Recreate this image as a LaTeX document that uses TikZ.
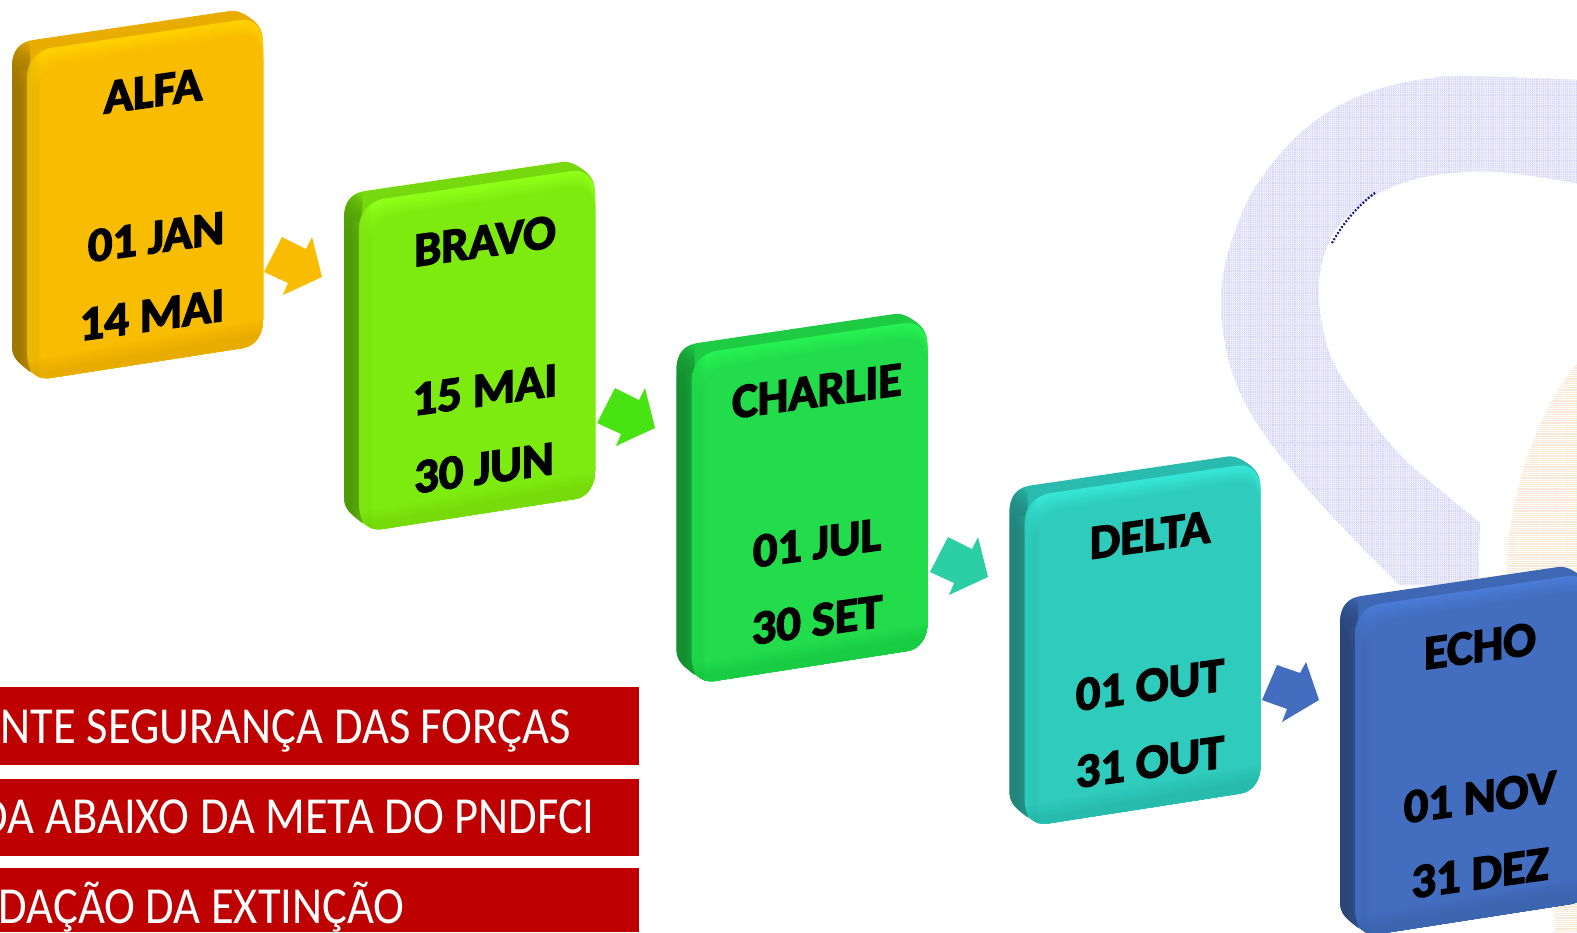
\documentclass[tikz,border=0pt]{standalone}
\usepackage{fontspec}
\usetikzlibrary{patterns.meta}
\setmainfont{Carlito}
\newfontfamily\cardfont[FakeBold=3]{Carlito Bold}
\definecolor{banner}{HTML}{BE0000}
\definecolor{lav}{HTML}{D5D4F5}
\definecolor{lavline}{HTML}{EEEEFB}
\definecolor{peach}{HTML}{FAE9D6}
\definecolor{arrowgreen}{HTML}{48E312}
\definecolor{aface}{HTML}{F8BC00}\definecolor{atop}{HTML}{FFCF00}\definecolor{aside}{HTML}{E8AD00}\definecolor{adark}{HTML}{9E7700}
\definecolor{bface}{HTML}{7EEB10}\definecolor{btop}{HTML}{8EFF18}\definecolor{bside}{HTML}{76D80F}\definecolor{bdark}{HTML}{4E9A08}
\definecolor{cface}{HTML}{22DC4B}\definecolor{ctop}{HTML}{26F052}\definecolor{cside}{HTML}{1FCB45}\definecolor{cdark}{HTML}{148C30}
\definecolor{dface}{HTML}{2FCBBD}\definecolor{dtop}{HTML}{36E5D5}\definecolor{dside}{HTML}{2ABBAE}\definecolor{ddark}{HTML}{22837A}
\definecolor{eface}{HTML}{436DBE}\definecolor{etop}{HTML}{4A7AD4}\definecolor{eside}{HTML}{3F68B4}\definecolor{edark}{HTML}{2A4576}
\tikzset{
  cardtext/.style={font=\cardfont\fontsize{24.2}{24.2}\selectfont,text=black,inner sep=0pt,transform shape,cm={1,0.14,0,1,(0,0)}},
  bannerbox/.style={fill=banner,draw=none},
  bannertext/.style={font=\fontsize{26}{26}\selectfont,text=white,inner sep=0pt,anchor=base east,transform shape,xscale=0.895},
  blockarrow/.style={draw=none}
}
\newcommand{\silpath}{(12,67) .. controls (12,50) and (20,42) .. (33,40) -- (230,11) .. controls (238,10) and (245,14) .. (253,20) .. controls (260,26) and (263,32) .. (263,43) -- (263,320) .. controls (263,335) and (255,346) .. (243,348) -- (50,378) .. controls (42,379) and (36,376) .. (28,370) .. controls (18,362) and (12,358) .. (12,345) -- cycle}
\newcommand{\facepath}{(27,78) .. controls (27,62) and (36,52) .. (50,48) -- (240,20) .. controls (255,18) and (263,30) .. (263,43) -- (263,320) .. controls (263,335) and (255,346) .. (243,348) -- (50,378) .. controls (35,380) and (27,370) .. (27,352) -- cycle}
\newcommand{\card}[3]{%
  \begin{scope}[shift={(#1,#2)}]
    \fill[#3side] \silpath;
    \begin{scope}
      \clip \silpath;
      \foreach \yy in {38,42,...,90} {\fill[#3dark,opacity=0.18] (8,\yy-8) -- (30,\yy+6) -- (30,385) -- (8,385) -- cycle;}
      \foreach \xx in {20,22,24,26,28} {\fill[#3side,opacity=0.07] (\xx,70) rectangle (30,385);}
    \end{scope}
    \fill[#3top] \facepath;
    \begin{scope}
      \clip \facepath;
      \foreach \tt/\mm in {3/12,5/25,7/38,9/52,11/65,13/78,15/90,17/100} {
        \fill[#3face!\mm!#3top] (27+0.6*\tt,100) .. controls (27+0.6*\tt,62+\tt) and (36+0.6*\tt,52+\tt) .. (50+0.6*\tt,48+\tt) -- (240,20+\tt) .. controls (255,18+\tt) and (263,30+\tt) .. (263,43+\tt) -- (270,400) -- (27+0.6*\tt,400) -- cycle;
      }
      \foreach \xx in {29,31,...,41} {\fill[#3dark,opacity=0.035] (25,40) rectangle (\xx,400);}
      \foreach \bb in {2,4,...,16} {\fill[#3dark,opacity=0.018] (20,378-\bb) -- (263,335-\bb) -- (270,400) -- (20,400) -- cycle;}
    \end{scope}
  \end{scope}}
\newcommand{\arrowshape}[3]{%
  \fill[blockarrow,#3,shift={(#1,#2)}] (264,272) -- (282,237) -- (306,249) -- (312,237) -- (322,277) -- (283,295) -- (288,283) -- cycle;}
\newcommand{\ribbon}{plot[smooth,tension=0.6] coordinates {(1580,80) (1500,77) (1440,77) (1370,92) (1310,125) (1260,180) (1232,240) (1221,300) (1230,365) (1255,420) (1300,480) (1350,535) (1400,585)} -- (1478,585) -- plot[smooth,tension=0.6] coordinates {(1480,523) (1440,490) (1400,455) (1360,405) (1330,355) (1319,300) (1324,255) (1345,218) (1385,190) (1435,175) (1500,172) (1580,184)} -- cycle}
\newcommand{\peachshape}{(1580,360) .. controls (1545,400) and (1515,470) .. (1507,553) -- (1507,700) -- (1555,905) -- (1555,932) -- (1580,932) -- cycle}
\begin{document}
\begin{tikzpicture}[x=0.5pt,y=-0.5pt]
\useasboundingbox (0,0) rectangle (1577,932);
\clip (0,0) rectangle (1577,932);
% watermark
\fill[lav] \ribbon;
\fill[pattern={Lines[angle=0,distance=1.1pt,line width=0.3pt]},pattern color=lavline] \ribbon;
\fill[pattern={Lines[angle=90,distance=1.1pt,line width=0.3pt]},pattern color=lavline] \ribbon;
\fill[peach] \peachshape;
\fill[pattern={Lines[angle=0,distance=1.1pt,line width=0.25pt]},pattern color=white] \peachshape;
\draw[color=lav!20!blue!50!black,line width=1.1pt,dash pattern=on 0.9pt off 0.9pt] (1332,243) .. controls (1342,225) and (1355,208) .. (1376,192);
% banners
\fill[bannerbox] (0,687) rectangle (639,765);
\fill[bannerbox] (0,778.5) rectangle (639,856);
\fill[bannerbox] (0,868) rectangle (639,932);
\node[bannertext] (b1) at (571,743) {NTE SEGURANÇA DAS FORÇAS};
\node[bannertext] (b2) at (595,833) {DA ABAIXO DA META DO PNDFCI};
\node[bannertext] (b3) at (405,923) {DAÇÃO DA EXTINÇÃO};
% arrows
\arrowshape{0}{0}{aface}
\arrowshape{333}{151}{arrowgreen}
\arrowshape{666}{300}{cface!20!dface}
\fill[blockarrow,eface] (1262,700) -- (1277,665) -- (1300,673) -- (1306,662) -- (1319,700) -- (1282,722) -- (1287,709) -- cycle;
% cards
\card{0}{0}{a}
\card{332}{151}{b}
\card{664.5}{303}{c}
\card{997.5}{445.5}{d}
\card{1328}{556}{e}
% texts
\node[cardtext] (alfa) at (153,91) {ALFA};
\node[cardtext] (alfa1) at (156,237) {01 JAN};
\node[cardtext] (alfa2) at (152,315) {14 MAI};
\node[cardtext] (bravo) at (485,241) {BRAVO};
\node[cardtext] (bravo1) at (485,390) {15 MAI};
\node[cardtext] (bravo2) at (484,468) {30 JUN};
\node[cardtext] (charlie) at (817,391) {CHARLIE};
\node[cardtext] (charlie1) at (817,543) {01 JUL};
\node[cardtext] (charlie2) at (817,620) {30 SET};
\node[cardtext] (delta) at (1150,535) {DELTA};
\node[cardtext] (delta1) at (1150,685) {01 OUT};
\node[cardtext] (delta2) at (1150,762) {31 OUT};
\node[cardtext] (echo) at (1480,646) {ECHO};
\node[cardtext] (echo1) at (1480,797) {01 NOV};
\node[cardtext] (echo2) at (1480,873) {31 DEZ};
\end{tikzpicture}
\end{document}
